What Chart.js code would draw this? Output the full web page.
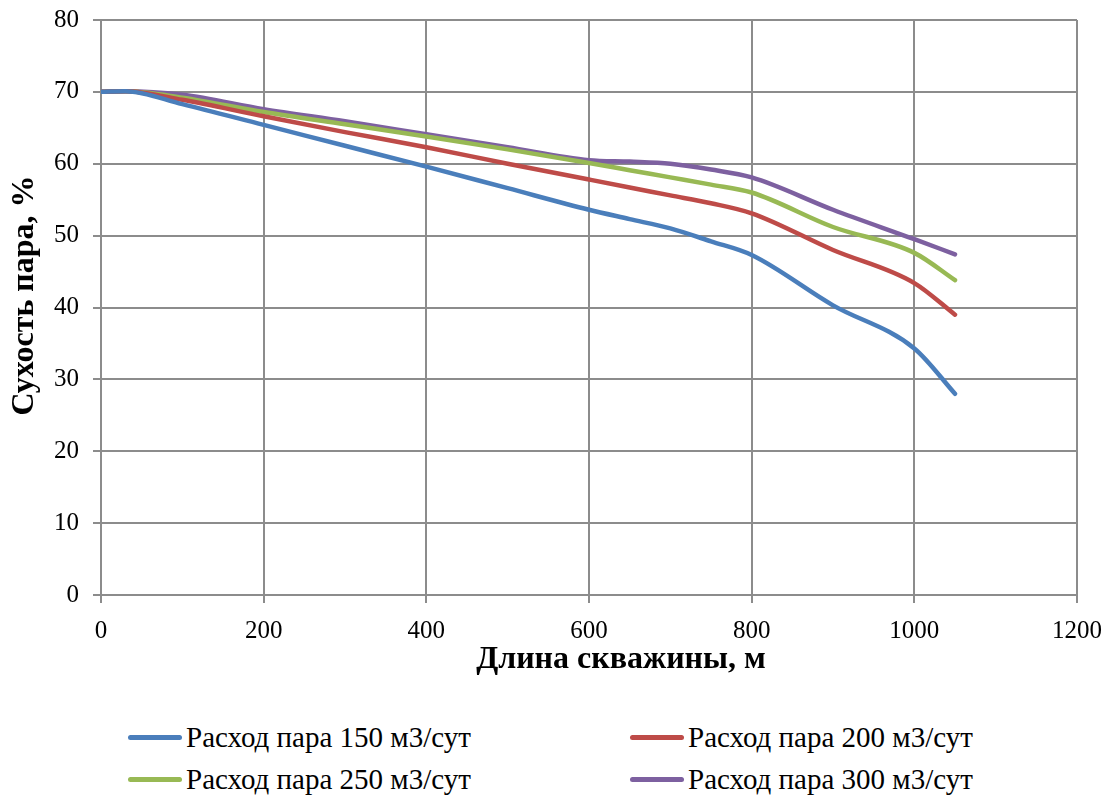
<!DOCTYPE html>
<html>
<head>
<meta charset="utf-8">
<script src="https://cdn.jsdelivr.net/npm/chart.js@4/dist/chart.umd.min.js"></script>
<style>
    body { margin: 0; background: #fff; }
    #wrap { position: relative; width: 1104px; height: 798px; }
    #chartBox { position: absolute; left: 0; top: 0; width: 1104px; height: 690px; }
    #legend { position: absolute; left: 0; top: 0; width: 1104px; font-family: "Liberation Serif", "Times New Roman", serif; font-size: 29px; color: #000; }
    .item { position: absolute; display: flex; align-items: center; white-space: nowrap; height: 34px; }
    .item span.line { display: inline-block; width: 54px; height: 5px; margin-right: 4px; border-radius: 3px; }
</style>
</head>
<body>
<div id="wrap">
    <div id="chartBox"><canvas id="chart"></canvas></div>
    <div id="legend"></div>
</div>
<script>
// длина скважины, м
const lengths = [0, 30, 100, 200, 300, 400, 500, 600, 650, 700, 750, 800, 900, 1000, 1050];
// сухость пара, %
const dry150 = [70, 70.1, 68.3, 65.4, 62.5, 59.6, 56.6, 53.6, 52.3, 51.0, 49.2, 47.3, 40.3, 34.3, 28.0];
const dry200 = [70, 70.1, 68.9, 66.6, 64.4, 62.3, 60.0, 57.8, 56.7, 55.6, 54.5, 53.1, 48.0, 43.4, 39.0];
const dry250 = [70, 70.1, 69.2, 67.2, 65.5, 63.8, 62.0, 60.1, 59.1, 58.1, 57.1, 56.0, 51.2, 47.6, 43.8];
const dry300 = [70, 70.1, 69.6, 67.6, 65.9, 64.1, 62.3, 60.5, 60.3, 60.0, 59.2, 58.1, 53.6, 49.5, 47.4];
const seriesNames = ["Расход пара 150 м3/сут", "Расход пара 200 м3/сут", "Расход пара 250 м3/сут", "Расход пара 300 м3/сут"];
const xTicks = [0, 200, 400, 600, 800, 1000, 1200];
const yTicks = [0, 10, 20, 30, 40, 50, 60, 70, 80];

const colors = ["#4A7EBB", "#BE4B48", "#98B954", "#7D60A0"];
const allSeries = [dry150, dry200, dry250, dry300];

function toPoints(values) {
    return values.map(function (v, i) {
        return { x: lengths[i], y: v };
    });
}

const serif = "'Liberation Serif', 'Times New Roman', serif";

var ctx = document.getElementById("chart").getContext("2d");
var myChart = new Chart(ctx, {
    type: "line",
    data: {
        datasets: allSeries.map(function (vals, i) {
            return {
                label: seriesNames[i],
                data: toPoints(vals),
                borderColor: colors[i],
                backgroundColor: colors[i],
                borderWidth: 4.5,
                pointRadius: 0,
                cubicInterpolationMode: "monotone",
                borderCapStyle: "round",
                fill: false,
            };
        }),
    },
    options: {
        responsive: true,
        maintainAspectRatio: false,
        animation: false,
        layout: { padding: { top: 20, right: 27, left: 0, bottom: 0 } },
        plugins: {
            legend: { display: false },
            tooltip: { enabled: false },
        },
        scales: {
            x: {
                type: "linear",
                min: 0,
                max: 1200,
                afterBuildTicks: function (axis) {
                    axis.ticks = xTicks.map(function (v) { return { value: v }; });
                },
                afterFit: function (axis) {
                    // fixed plot box, the layout padding does the rest
                    axis.height = 95;
                    axis.paddingLeft = 0;
                    axis.paddingRight = 0;
                },
                grid: { color: "#8c8c8c", lineWidth: 2, tickLength: 8 },
                border: { color: "#8c8c8c", width: 2 },
                ticks: {
                    color: "#000",
                    font: { family: serif, size: 25 },
                    maxRotation: 0,
                    padding: 13,
                    callback: function (v) { return String(v); },
                },
                title: {
                    display: true,
                    // leading spaces shift the title to the right as in the original
                    text: "        Длина скважины, м",
                    color: "#000",
                    font: { family: serif, size: 32, weight: "bold" },
                    padding: { top: 0, bottom: 11 },
                },
            },
            y: {
                min: 0,
                max: 80,
                afterBuildTicks: function (axis) {
                    axis.ticks = yTicks.map(function (v) { return { value: v }; });
                },
                afterFit: function (axis) {
                    axis.width = 101;
                    axis.paddingTop = 0;
                    axis.paddingBottom = 0;
                },
                grid: { color: "#8c8c8c", lineWidth: 2, tickLength: 8 },
                border: { color: "#8c8c8c", width: 2 },
                ticks: {
                    color: "#000",
                    font: { family: serif, size: 25 },
                    padding: 14,
                    callback: function (v) { return String(v); },
                },
                title: {
                    display: true,
                    // leading spaces nudge the title up a bit like in the original
                    text: "   Сухость пара, %",
                    color: "#000",
                    font: { family: serif, size: 32, weight: "bold" },
                    padding: { top: 6, bottom: 0 },
                },
            },
        },
    },
});

// legend 2 x 2
var legend = document.getElementById("legend");
var spots = [[128, 720], [630, 720], [128, 762], [630, 762]];
seriesNames.forEach(function (name, i) {
    var div = document.createElement("div");
    div.className = "item";
    div.style.left = spots[i][0] + "px";
    div.style.top = spots[i][1] + "px";
    div.innerHTML = '<span class="line" style="background:' + colors[i] + '"></span>' + name;
    legend.appendChild(div);
});
</script>
</body>
</html>
